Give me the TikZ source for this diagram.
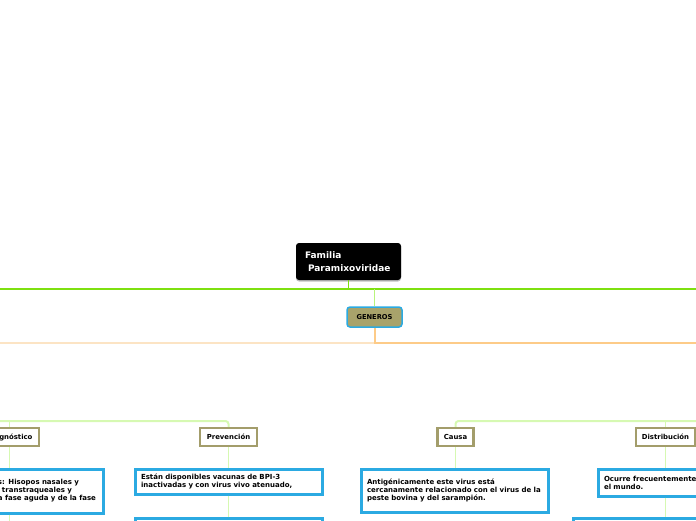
\documentclass[tikz,border=0pt]{standalone}
\usepackage{fontspec}
\setmainfont{DejaVu Sans}
\usetikzlibrary{shadows}

\definecolor{lima}{HTML}{7EE010}
\definecolor{limaclaro}{HTML}{B8F47C}
\definecolor{verdepal}{HTML}{D6F9B2}
\definecolor{naranja}{HTML}{FDCB88}
\definecolor{naranjapal}{HTML}{FCE4C4}
\definecolor{oliva}{HTML}{A39D6B}
\definecolor{olivafondo}{HTML}{A8A36B}
\definecolor{azul}{HTML}{2BAAE2}

\begin{document}
\begin{tikzpicture}[x=1pt,y=-1pt,
  raiz/.style={fill=black, text=white, rounded corners=3pt, inner sep=0pt,
    minimum width=105pt, minimum height=37pt, text width=87pt, align=left,
    font=\bfseries\fontsize{9}{13}\selectfont,
    drop shadow={shadow xshift=0pt, shadow yshift=-1.5pt, fill=gray, opacity=.5}},
  generos/.style={fill=olivafondo, draw=azul, line width=1.5pt, rounded corners=3pt,
    minimum width=55pt, minimum height=20pt, inner sep=0pt,
    font=\bfseries\fontsize{6.7}{8}\selectfont},
  etiqueta/.style={draw=oliva, line width=2.5pt, fill=white, inner sep=0pt,
    minimum height=18pt, font=\bfseries\fontsize{6.9}{8}\selectfont},
  texto/.style={draw=azul, line width=3pt, fill=white, align=left,
    text width=175pt, inner xsep=6pt, inner ysep=0pt,
    font=\bfseries\fontsize{7}{8}\selectfont},
  linea/.style={line width=1pt}]
  \useasboundingbox (0,0) rectangle (696,520);
  \clip (0,0) rectangle (696,520);

  % nodos principales
  \node[raiz] (familia) at (348.5,261.5) {Familia\\\hspace*{3pt}Paramixoviridae};
  \node[generos] (generosN) at (374.5,317) {GENEROS};

  \coordinate (limaIzq) at (0,289);
  \coordinate (limaDer) at (696,289);
  \coordinate (naranjaIzq) at (0,343);
  \coordinate (naranjaDer) at (696,343);
  \coordinate (verdeIzq) at (0,421);
  \coordinate (verdeDer) at (696,421);

  % etiquetas
  \node[etiqueta, minimum width=59pt] (diagnostico) at (9.5,437) {Diagnóstico};
  \node[etiqueta, minimum width=57pt] (prevencion) at (228.5,437) {Prevención};
  \node[etiqueta, minimum width=36pt] (causa) at (455.5,437) {Causa};
  \node[etiqueta, minimum width=59pt] (distribucion) at (665.5,437) {Distribución};

  % textos
  \node[texto, text width=99pt, minimum height=44pt] (diagTexto) at (47.5,491)
    {s: Hisopos nasales y\\\hspace*{4pt}transtraqueales y\\a fase aguda y de la fase};
  \node[texto, minimum height=25pt] (prevTexto) at (228.5,481.5)
    {Están disponibles vacunas de BPI-3\\inactivadas y con virus vivo atenuado,};
  \node[texto, minimum height=43pt] (causaTexto) at (454.5,490.5)
    {Antigénicamente este virus está\\cercanamente relacionado con el virus de la\\peste bovina y del sarampión.};
  \node[texto, minimum height=27pt] (distTexto) at (691.5,482.5)
    {Ocurre frecuentemente\\el mundo.};
  \node[texto, minimum height=30pt] (prevSig) at (228.5,533) {};
  \node[texto, minimum height=30pt] (distSig) at (666.5,533) {};
  \coordinate (diagFin) at (9.5,525);

  % conectores
  \draw[lima, line width=2pt] (limaIzq) -- (limaDer);
  \draw[linea, lima] (familia.south) -- (familia.south |- limaIzq);
  \draw[linea, limaclaro, rounded corners=3pt] (generosN.north |- limaIzq) -- (generosN.north);
  \draw[naranjapal, line width=2pt] (naranjaIzq) -- (generosN.south |- naranjaIzq);
  \draw[naranja, line width=2pt] (generosN.south) -- (generosN.south |- naranjaDer) -- (naranjaDer);

  \draw[verdepal, line width=2pt, rounded corners=3pt] (verdeIzq) -- (prevencion.north |- verdeIzq) -- (prevencion.north);
  \draw[linea, verdepal] (diagnostico.north |- verdeIzq) -- (diagnostico.north);
  \draw[verdepal, line width=2pt, rounded corners=3pt] (causa.north) -- (causa.north |- verdeDer) -- (verdeDer);
  \draw[linea, verdepal] (distribucion.north |- verdeDer) -- (distribucion.north);

  \draw[linea, verdepal] (diagnostico.south) -- (diagnostico.south |- diagTexto.north);
  \draw[linea, verdepal] (diagnostico.south |- diagTexto.south) -- (diagFin);
  \draw[linea, verdepal] (prevencion.south) -- (prevTexto.north);
  \draw[linea, verdepal] (prevTexto.south) -- (prevSig.north);
  \draw[linea, verdepal] (causa.south) -- (causa.south |- causaTexto.north);
  \draw[linea, verdepal] (distribucion.south) -- (distribucion.south |- distTexto.north);
  \draw[linea, verdepal] (distribucion.south |- distTexto.south) -- (distribucion.south |- distSig.north);
\end{tikzpicture}
\end{document}
